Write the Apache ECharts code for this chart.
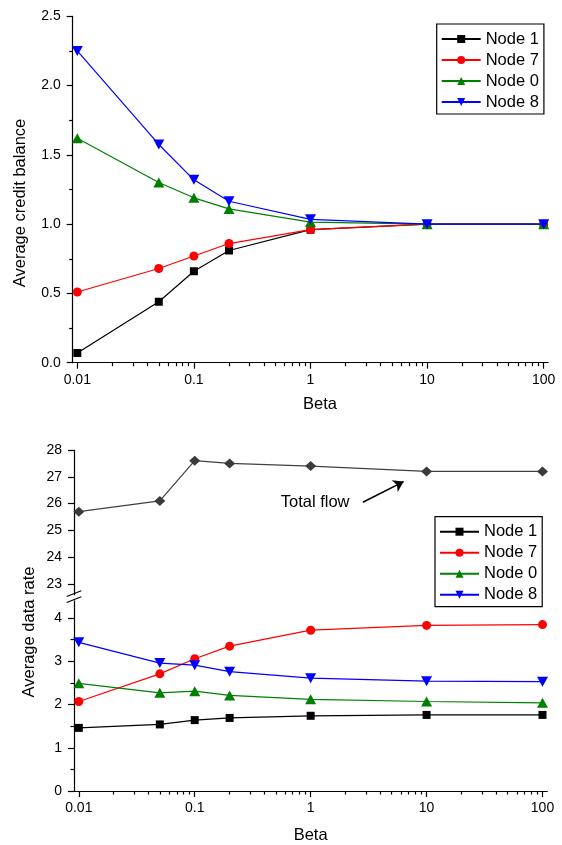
<!DOCTYPE html>
<html>
<head>
<meta charset="utf-8">
<script src="https://cdn.jsdelivr.net/npm/echarts@6/dist/echarts.min.js"></script>
<style>
html,body{margin:0;padding:0;background:#fff;}
#chart{width:562px;height:845px;}
</style>
</head>
<body>
<div id="chart"></div>
<script>
// ---- data ----
const betaValues = [0.01, 0.05, 0.1, 0.2, 1, 10, 100];
const seriesNames = ['Node 1', 'Node 7', 'Node 0', 'Node 8'];
const creditNode1 = [0.07, 0.44, 0.66, 0.81, 0.96, 1.0, 1.0];
const creditNode7 = [0.51, 0.68, 0.77, 0.86, 0.96, 1.0, 1.0];
const creditNode0 = [1.62, 1.30, 1.19, 1.11, 1.015, 1.0, 1.0];
const creditNode8 = [2.25, 1.575, 1.32, 1.165, 1.035, 1.0, 1.0];
const totalFlow = [25.7, 26.1, 27.6, 27.5, 27.4, 27.2, 27.2];
const rateNode1 = [1.46, 1.54, 1.64, 1.69, 1.74, 1.76, 1.76];
const rateNode7 = [2.07, 2.71, 3.06, 3.35, 3.72, 3.83, 3.85];
const rateNode0 = [2.49, 2.27, 2.31, 2.21, 2.12, 2.07, 2.04];
const rateNode8 = [3.44, 2.96, 2.91, 2.76, 2.61, 2.54, 2.53];
const betaTicks = [0.01, 0.1, 1, 10, 100];
const creditTicks = [0, 0.5, 1, 1.5, 2, 2.5];
const flowTicks = [23, 24, 25, 26, 27, 28];
const rateTicks = [0, 1, 2, 3, 4];
const rateMinorTicks = [0.5, 1.5, 2.5, 3.5];
const arrowFrom = [2.82, 26.05];
const arrowTo = [6.34, 26.82];

// ---- styles ----
const FONT = 'Liberation Sans, Arial, Helvetica, sans-serif';
const colors = ['#000000', '#ff0000', '#008000', '#0000ff'];
const symbols = ['rect', 'circle', 'triangle', 'path://M0,0L10,0L5,9Z'];
const symbolSizes = [8, 9, [11, 10], [11, 10]];

const betaMinor = [];
for (let i = 0; i < betaTicks.length - 1; i++) {
  for (let k = 2; k <= 9; k++) betaMinor.push(+(betaTicks[i] * k).toPrecision(6));
}

function pair(ys) { return betaValues.map((x, i) => [x, ys[i]]); }

const extTop = Math.pow(10, 4.6 / 116.6);
const extBot = Math.pow(10, 4.8 / 115.9);

function mainX(grid, ext, show, nameOpts) {
  return {
    type: 'log', gridIndex: grid, position: 'bottom',
    min: 0.01 / ext, max: 100 * ext, show: show,
    axisLine: { onZero: false, lineStyle: { color: '#000', width: 1.2 } },
    axisTick: { inside: false, length: 6, customValues: betaTicks, lineStyle: { color: '#000', width: 1.2 } },
    axisLabel: { customValues: betaTicks, margin: 10, color: '#000', fontSize: 14, fontFamily: FONT,
      formatter: v => String(+(+v).toPrecision(6)) },
    splitLine: { show: false }, minorTick: { show: false },
    ...(nameOpts || {})
  };
}
function minorX(grid, ext) {
  return {
    type: 'log', gridIndex: grid, position: 'bottom',
    min: 0.01 / ext, max: 100 * ext,
    axisLine: { show: false, onZero: false },
    axisTick: { inside: false, length: 3.5, customValues: betaMinor, lineStyle: { color: '#000', width: 1.2 } },
    axisLabel: { show: false }, splitLine: { show: false }
  };
}

const axisLineStyle = { color: '#000', width: 1.2 };
const labelStyle = { color: '#000', fontSize: 14, fontFamily: FONT, margin: 12 };

const xAxes = [
  mainX(0, extTop, true, { name: 'Beta', nameLocation: 'middle', nameGap: 33,
    nameTextStyle: { color: '#000', fontSize: 16.5, fontFamily: FONT, padding: [0, 0, 0, 19] } }),
  minorX(0, extTop),
  mainX(1, extBot, false),
  mainX(2, extBot, true, { name: 'Beta', nameLocation: 'middle', nameGap: 36,
    nameTextStyle: { color: '#000', fontSize: 16.5, fontFamily: FONT } }),
  minorX(2, extBot)
];

const yAxes = [
  { type: 'value', gridIndex: 0, min: 0, max: 2.5, interval: 0.5,
    axisLine: { show: true, onZero: false, lineStyle: axisLineStyle },
    axisTick: { show: true, length: 6, lineStyle: axisLineStyle },
    minorTick: { show: true, splitNumber: 2, length: 3.5, lineStyle: axisLineStyle },
    axisLabel: { ...labelStyle, formatter: v => v.toFixed(1) },
    splitLine: { show: false }, minorSplitLine: { show: false } },
  { type: 'value', gridIndex: 1, min: 22.6, max: 28,
    axisLine: { show: true, onZero: false, lineStyle: axisLineStyle },
    axisTick: { show: true, length: 6, customValues: flowTicks, lineStyle: axisLineStyle },
    axisLabel: { ...labelStyle, customValues: flowTicks },
    splitLine: { show: false } },
  { type: 'value', gridIndex: 2, min: 0, max: 4.4,
    axisLine: { show: true, onZero: false, lineStyle: axisLineStyle },
    axisTick: { show: true, length: 6, customValues: rateTicks, lineStyle: axisLineStyle },
    axisLabel: { ...labelStyle, customValues: rateTicks },
    splitLine: { show: false } },
  { type: 'value', gridIndex: 2, min: 0, max: 4.4, position: 'left',
    axisLine: { show: false, onZero: false },
    axisTick: { show: true, length: 3.5, customValues: rateMinorTicks, lineStyle: axisLineStyle },
    axisLabel: { show: false },
    splitLine: { show: false } }
];

function nodeSeries(name, idx, data, xi, yi) {
  return {
    type: 'line', name: name, xAxisIndex: xi, yAxisIndex: yi,
    data: pair(data), symbol: symbols[idx], symbolSize: symbolSizes[idx],
    showAllSymbol: true, animation: false,
    itemStyle: { color: colors[idx] },
    lineStyle: { color: colors[idx], width: 1.2 },
    z: 3 + idx
  };
}

const creditData = [creditNode1, creditNode7, creditNode0, creditNode8];
const rateData = [rateNode1, rateNode7, rateNode0, rateNode8];

const series = [];
creditData.forEach((d, i) => series.push(nodeSeries(seriesNames[i], i, d, 0, 0)));
rateData.forEach((d, i) => series.push(nodeSeries(seriesNames[i], i, d, 3, 2)));
series.push({
  type: 'line', name: 'Total flow', xAxisIndex: 2, yAxisIndex: 1,
  data: pair(totalFlow), symbol: 'diamond', symbolSize: [11, 10], animation: false,
  itemStyle: { color: '#3a3a3a' }, lineStyle: { color: '#404040', width: 1.2 },
  markLine: {
    silent: true, animation: false, symbol: ['none', 'arrow'], symbolSize: 10,
    label: { show: false },
    lineStyle: { color: '#000', width: 1.6, type: 'solid' },
    data: [[{ coord: arrowFrom }, { coord: arrowTo }]]
  }
});

function legendAt(left, top) {
  return {
    orient: 'vertical', left: left, top: top, data: seriesNames,
    itemWidth: 39, itemHeight: 10, itemGap: 3,
    padding: [6, 5, 3, 4],
    borderColor: '#000', borderWidth: 1.2, backgroundColor: '#fff',
    textStyle: { color: '#000', fontSize: 16.5, fontFamily: FONT, lineHeight: 18 },
    selectedMode: false
  };
}

const option = {
  animation: false,
  backgroundColor: '#fff',
  grid: [
    { left: 72.7, right: 13.7, top: 16.3, bottom: 845 - 362.7 },
    { left: 74, right: 14.7, top: 450, bottom: 845 - 594.7 },
    { left: 74, right: 14.7, top: 600.8, bottom: 845 - 793.3 }
  ],
  xAxis: xAxes,
  yAxis: yAxes,
  legend: [legendAt(436.7, 24), legendAt(435, 516.7)],
  series: series,
  graphic: [
    { type: 'text', x: 20, y: 203, rotation: Math.PI / 2,
      style: { text: 'Average credit balance', fill: '#000', font: '16.5px ' + FONT, align: 'center', verticalAlign: 'middle' } },
    { type: 'text', x: 29, y: 632, rotation: Math.PI / 2,
      style: { text: 'Average data rate', fill: '#000', font: '16.5px ' + FONT, align: 'center', verticalAlign: 'middle' } },
    { type: 'text', x: 280.7, y: 502.5,
      style: { text: 'Total flow', fill: '#000', font: '16.5px ' + FONT, align: 'left', verticalAlign: 'middle' } },
    { type: 'line', shape: { x1: 66.7, y1: 596.5, x2: 81.3, y2: 590.8 }, style: { stroke: '#000', lineWidth: 1.2 } },
    { type: 'line', shape: { x1: 66.7, y1: 602.5, x2: 81.3, y2: 596.8 }, style: { stroke: '#000', lineWidth: 1.2 } }
  ]
};

const chart = echarts.init(document.getElementById('chart'), null, { renderer: 'canvas' });
chart.setOption(option);
</script>
</body>
</html>
